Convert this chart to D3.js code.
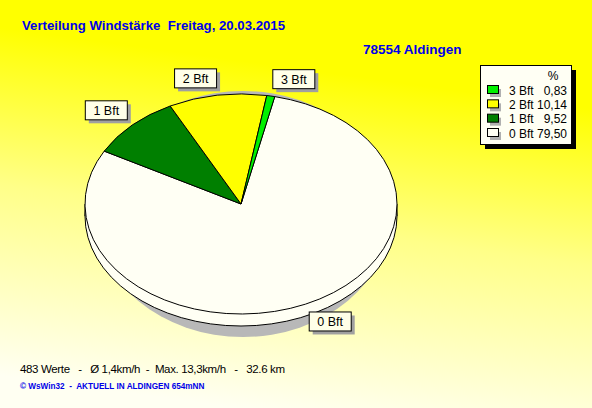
<!DOCTYPE html>
<html><head><meta charset="utf-8">
<script src="https://cdn.jsdelivr.net/npm/d3@7"></script>
<style>html,body{margin:0;padding:0;overflow:hidden}svg{display:block}</style>
</head><body>
<script>
const categories = ["0 Bft", "1 Bft", "2 Bft", "3 Bft"];
const values = [79.50, 9.52, 10.14, 0.83];
const colors = ["#FFFFF4", "#007F00", "#FFFF00", "#00F000"];
const legendOrder = ["3 Bft", "2 Bft", "1 Bft", "0 Bft"];
const legendValues = ["0,83", "10,14", "9,52", "79,50"];
const title = "Verteilung Windstärke  Freitag, 20.03.2015";
const station = "78554 Aldingen";
const footer1 = "483 Werte   -   Ø 1,4km/h  -  Max. 13,3km/h   -   32.6 km";
const footer2 = "© WsWin32  -  AKTUELL IN ALDINGEN 654mNN";

const W = 592, H = 408;
const svg = d3.select("body").append("svg").attr("width", W).attr("height", H);
const defs = svg.append("defs");
const g1 = defs.append("linearGradient").attr("id","bg").attr("x1","0.6").attr("y1","0").attr("x2","0.4").attr("y2","1");
g1.append("stop").attr("offset","0").attr("stop-color","#FFFF00");
g1.append("stop").attr("offset","0.18").attr("stop-color","#FFFF00");
g1.append("stop").attr("offset","0.55").attr("stop-color","#FFFF88");
g1.append("stop").attr("offset","1").attr("stop-color","#FFFFF2");
svg.append("rect").attr("width",W).attr("height",H).attr("fill","url(#bg)");

const font = "'Liberation Sans', Arial, sans-serif";
svg.append("text").attr("x",22).attr("y",30).attr("font-family",font).attr("font-weight","bold")
  .attr("font-size",13.2).attr("fill","#0000E8").style("white-space","pre").text(title);
svg.append("text").attr("x",363).attr("y",54).attr("font-family",font).attr("font-weight","bold")
  .attr("font-size",13.5).attr("fill","#0000E8").text(station);

// pie geometry
const cx = 241, cy = 204, rx = 156, ry = 110, depth = 12;
const k = ry / rx;
const toRad = d => d * Math.PI / 180;
const pie = d3.pie().sort(null).startAngle(toRad(12.5)).endAngle(toRad(12.5 + 360));
const arcs = pie(values);
const arc = d3.arc().innerRadius(0).outerRadius(rx);

const pg = svg.append("g");
pg.append("ellipse").attr("cx", cx + 2).attr("cy", cy + 10).attr("rx", rx - 8).attr("ry", ry + 13).attr("fill", "#B8B8B8");
pg.append("ellipse").attr("cx", cx).attr("cy", cy + depth).attr("rx", rx).attr("ry", ry)
  .attr("fill", colors[0]).attr("stroke", "#000").attr("stroke-width", 1);
pg.append("rect").attr("x", cx - rx + 0.5).attr("y", cy).attr("width", 2 * rx - 1).attr("height", depth).attr("fill", colors[0]);
[cx - rx, cx + rx].forEach(x => pg.append("line").attr("x1", x).attr("x2", x).attr("y1", cy).attr("y2", cy + depth)
  .attr("stroke", "#000").attr("stroke-width", 1));
const face = pg.append("g").attr("transform", `translate(${cx},${cy}) scale(1,${k})`);
face.selectAll("path").data(arcs).join("path").attr("d", arc)
  .attr("fill", (d, i) => colors[i]).attr("stroke", "#000").attr("stroke-width", 1)
  .attr("vector-effect", "non-scaling-stroke").attr("stroke-linejoin", "round");

// labels
const bw = 42, bh = 19;
arcs.forEach((d, i) => {
  const t = (d.startAngle + d.endAngle) / 2;
  const s = Math.sin(t), c = Math.cos(t);
  const px = cx + rx * s, py = cy - ry * c;
  const n = Math.hypot(s, c);
  const ox = px + 8 * s / n, oy = py - 8 * c / n;
  const x = s >= 0 ? ox : ox - bw;
  const y = c >= 0 ? oy - bh : oy;
  const lg = svg.append("g");
  lg.append("rect").attr("x", x + 4).attr("y", y + 4).attr("width", bw).attr("height", bh).attr("fill", "#A0A0A0");
  lg.append("rect").attr("x", x + 0.5).attr("y", y + 0.5).attr("width", bw).attr("height", bh)
    .attr("fill", "#FFFFE8").attr("stroke", "#000").attr("stroke-width", 1);
  lg.append("text").attr("x", x + bw / 2 + 0.5).attr("y", y + bh / 2 + 5).attr("text-anchor", "middle")
    .attr("font-family", font).attr("font-size", 12.5).attr("fill", "#000").text(categories[i]);
});

// legend
const lx = 480, ly = 65, lw = 91, lh = 79;
svg.append("rect").attr("x", lx + 5).attr("y", ly + 5).attr("width", lw).attr("height", lh).attr("fill", "#000");
svg.append("rect").attr("x", lx + 0.5).attr("y", ly + 0.5).attr("width", lw).attr("height", lh)
  .attr("fill", "#FFFFF4").attr("stroke", "#000").attr("stroke-width", 1);
svg.append("text").attr("x", 553).attr("y", 80).attr("text-anchor", "middle").attr("font-family", font)
  .attr("font-size", 12).text("%");
const rowY = d3.scalePoint().domain(legendOrder).range([90, 133]);
legendOrder.forEach((name, j) => {
  const i = categories.indexOf(name);
  const y = rowY(name);
  svg.append("rect").attr("x", 490).attr("y", y - 1).attr("width", 11).attr("height", 8).attr("fill", "#B0B0B0");
  svg.append("rect").attr("x", 487.5).attr("y", y - 4.5).attr("width", 11).attr("height", 8)
    .attr("fill", colors[i]).attr("stroke", "#000").attr("stroke-width", 1);
  svg.append("text").attr("x", 509).attr("y", y + 4.5).attr("font-family", font).attr("font-size", 12).text(name);
  svg.append("text").attr("x", 567).attr("y", y + 4.5).attr("text-anchor", "end").attr("font-family", font)
    .attr("font-size", 12).text(legendValues[j]);
});

svg.append("text").attr("x", 20).attr("y", 373).attr("font-family", font).attr("font-size", 11.5)
  .attr("fill", "#000").style("white-space", "pre").attr("textLength", 265).attr("lengthAdjust", "spacing").text(footer1);
svg.append("text").attr("x", 20).attr("y", 389).attr("font-family", font).attr("font-size", 8.2).attr("font-weight", "bold")
  .attr("fill", "#0000E8").style("white-space", "pre").text(footer2);
</script>
</body></html>
